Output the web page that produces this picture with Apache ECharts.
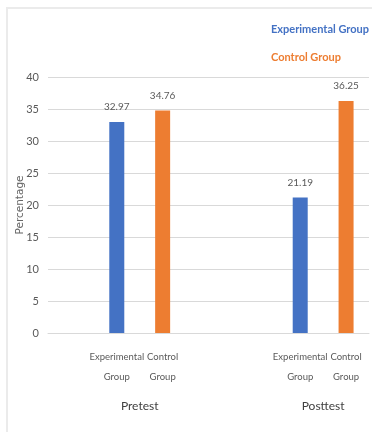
<!DOCTYPE html>
<html>
<head>
<meta charset="utf-8">
<script src="https://cdn.jsdelivr.net/npm/echarts@6/dist/echarts.min.js"></script>
<style>
html,body{margin:0;padding:0;background:#fff;}
#frame{position:absolute;left:6px;top:7px;width:366px;height:425px;border-left:2px solid #ebebeb;border-top:2px solid #ebebeb;box-sizing:border-box;}
#chart{position:absolute;left:0;top:0;width:372px;height:432px;}
</style>
</head>
<body>
<div id="frame"></div>
<div id="chart"></div>
<script>
// Category slots along the x axis ('' = empty spacer slot)
const categories = ['', 'Experimental\nGroup', 'Control\nGroup', '', '', 'Experimental\nGroup', 'Control\nGroup'];
const seriesNames = ['Experimental Group', 'Control Group'];
const experimentalValues = [null, 32.97, null, null, null, 21.19, null];
const controlValues = [null, null, 34.76, null, null, null, 36.25];
const groupNames = ['Pretest', 'Posttest'];
const groupSlots = [[1, 2], [5, 6]];
const yTicks = [0, 5, 10, 15, 20, 25, 30, 35, 40];

const FONT = "Lato, 'Liberation Sans', sans-serif";
const colors = ['#4472C4', '#ED7D31'];

const groupCenters = groupSlots.map(s => s.reduce((a, b) => a + b + 0.5, 0) / s.length);

const chart = echarts.init(document.getElementById('chart'));
chart.setOption({
  animation: false,
  textStyle: { fontFamily: FONT },
  legend: {
    orient: 'vertical',
    right: 3,
    top: 24,
    itemWidth: 0,
    itemHeight: 0,
    itemGap: 17,
    padding: 0,
    selectedMode: false,
    data: seriesNames.map((n, i) => ({ name: n, icon: 'rect', textStyle: { color: colors[i], fontSize: 11, fontWeight: 'bold', fontFamily: FONT } }))
  },
  grid: { left: 48, right: 2, top: 77, bottom: 99, containLabel: false },
  xAxis: [
    {
      type: 'category',
      data: categories,
      axisLine: { lineStyle: { color: '#d9d9d9', width: 1 } },
      axisTick: { show: false },
      axisLabel: { interval: 0, color: '#595959', fontSize: 9.5, lineHeight: 20, margin: 14, fontFamily: FONT }
    },
    {
      type: 'value',
      position: 'bottom',
      min: 0,
      max: categories.length,
      interval: 1,
      axisLine: { show: false },
      axisTick: { show: false },
      splitLine: { show: false },
      axisLabel: {
        margin: 67,
        color: '#404040',
        fontSize: 12,
        fontFamily: FONT,
        showMinLabel: true,
        showMaxLabel: true,
        formatter: v => {
          const i = groupCenters.findIndex(c => Math.abs(c - v) < 1e-6);
          return i >= 0 ? groupNames[i] : '';
        }
      }
    }
  ],
  yAxis: {
    type: 'value',
    min: yTicks[0],
    max: yTicks[yTicks.length - 1],
    interval: yTicks[1] - yTicks[0],
    name: 'Percentage',
    nameLocation: 'middle',
    nameGap: 22,
    nameMoveOverlap: false,
    nameTextStyle: { color: '#666666', fontSize: 10.5, fontFamily: "'DejaVu Sans', sans-serif" },
    axisLine: { show: false },
    axisTick: { show: false },
    axisLabel: { color: '#595959', fontSize: 11, margin: 9, fontFamily: FONT },
    splitLine: { lineStyle: { color: '#d9d9d9', width: 1 } }
  },
  series: [
    {
      name: seriesNames[0],
      type: 'bar',
      data: experimentalValues,
      barWidth: 15,
      barGap: '-100%',
      itemStyle: { color: colors[0] },
      label: { show: true, position: 'top', distance: 10, color: '#595959', fontSize: 10, fontFamily: FONT }
    },
    {
      name: seriesNames[1],
      type: 'bar',
      data: controlValues,
      barWidth: 15,
      barGap: '-100%',
      itemStyle: { color: colors[1] },
      label: { show: true, position: 'top', distance: 10, color: '#595959', fontSize: 10, fontFamily: FONT }
    }
  ]
});
</script>
</body>
</html>
